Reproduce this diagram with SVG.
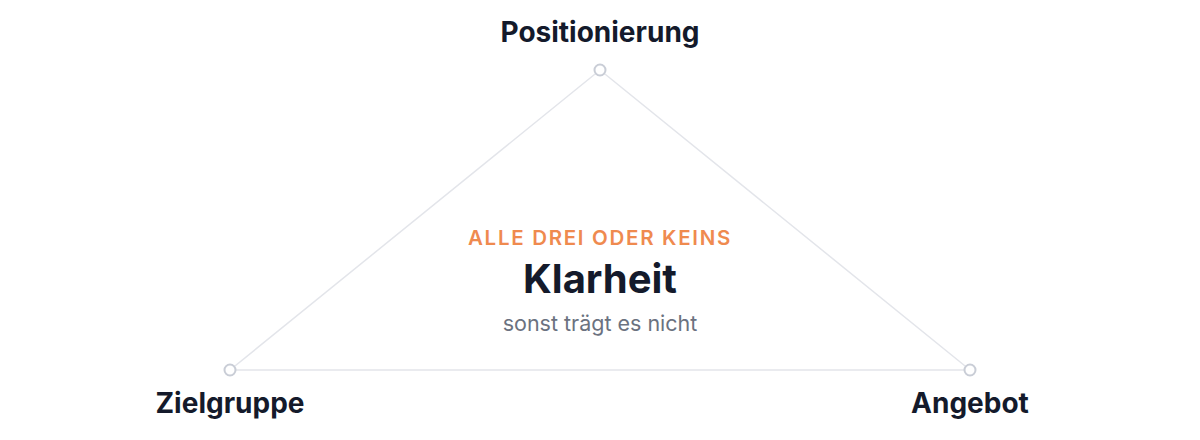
<svg xmlns="http://www.w3.org/2000/svg" width="1200" height="440" viewBox="0 0 1200 440">
<style>
.edge{stroke:#e3e5ea;stroke-width:1.5;fill:none}
.dot{fill:#ffffff;stroke:#c9cdd6;stroke-width:2}
.label{font-family:Inter,"Noto Sans",sans-serif;font-weight:700;font-size:28px;fill:#141a2b;text-anchor:middle}
.kicker{font-family:Inter,"Noto Sans",sans-serif;font-weight:600;font-size:20.5px;fill:#ef8a4f;letter-spacing:1.7px;text-anchor:middle}
.title{font-family:Inter,"Noto Sans",sans-serif;font-weight:700;font-size:40px;fill:#141a2b;text-anchor:middle}
.sub{font-family:Inter,"Noto Sans",sans-serif;font-weight:400;font-size:21.5px;fill:#6b7280;text-anchor:middle}
</style>
<rect width="1200" height="440" fill="#ffffff"/>
<g id="connectors">
<line class="edge" x1="600" y1="70" x2="230" y2="370"/>
<line class="edge" x1="600" y1="70" x2="970" y2="370"/>
<line class="edge" x1="230" y1="370" x2="970" y2="370"/>
</g>
<g id="node-positionierung">
<circle class="dot" cx="600" cy="70" r="5.5"/>
<text class="label" x="600" y="42">Positionierung</text>
</g>
<g id="node-zielgruppe">
<circle class="dot" cx="230" cy="370" r="5.5"/>
<text class="label" x="230" y="413">Zielgruppe</text>
</g>
<g id="node-angebot">
<circle class="dot" cx="970" cy="370" r="5.5"/>
<text class="label" x="970" y="413">Angebot</text>
</g>
<g id="center">
<text class="kicker" x="600" y="245">ALLE DREI ODER KEINS</text>
<text class="title" x="600" y="293">Klarheit</text>
<text class="sub" x="600" y="331">sonst trägt es nicht</text>
</g>
</svg>
